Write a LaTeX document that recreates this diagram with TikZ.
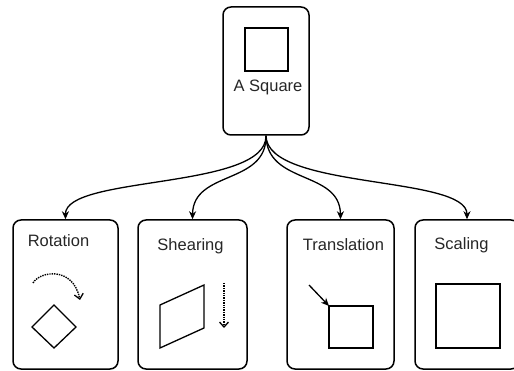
\documentclass[tikz,border=0pt]{standalone}
\usepackage{fontspec}
\setmainfont{Liberation Sans}
\usetikzlibrary{arrows.meta}
\begin{document}
\begin{tikzpicture}[x=1pt,y=-1pt,
  card/.style={draw, line width=1.5pt, rounded corners=8pt, inner sep=0pt},
  title/.style={font=\fontsize{16.5}{18}\selectfont, anchor=base, inner sep=0pt, text=black!85},
  figline/.style={draw, line width=1.3pt},
  link/.style={draw, line width=1.3pt, -{Stealth[length=8pt,width=7pt,inset=2.5pt]}},
  dotarrow/.style={line width=1.4pt, densely dotted, -{Straight Barb[length=5pt,width=9pt,line width=1.3pt]}}]
\useasboundingbox (0,0) rectangle (514,371);
\clip (0,0) rectangle (514,371);
% top card
\node[card, minimum width=86pt, minimum height=128pt] (top) at (266,71) {};
\draw[figline] (245,28) rectangle (288,71);
\node[title] (toptxt) at (268,92) {A Square};
% bottom cards
\node[card, minimum width=105pt, minimum height=149pt] (rot) at (65.5,294.5) {};
\node[card, minimum width=109pt, minimum height=149pt] (she) at (192.5,294.5) {};
\node[card, minimum width=107pt, minimum height=149pt] (tra) at (340.5,294.5) {};
\node[card, minimum width=104pt, minimum height=149pt] (sca) at (467,294.5) {};
% titles
\node[title] (rottxt) at (58.5,247) {Rotation};
\node[title] (shetxt) at (190.5,251) {Shearing};
\node[title] (tratxt) at (343.5,251) {Translation};
\node[title] (scatxt) at (461.5,250) {Scaling};
% connectors
\coordinate (src) at (top.south);
\draw[link] (src) .. controls (267,190) and (65,175) .. (rot.north);
\draw[link] (src) .. controls (267,185) and (193,170) .. (she.north);
\draw[link] (src) .. controls (267,185) and (340,170) .. (tra.north);
\draw[link] (src) .. controls (267,190) and (467,175) .. (sca.north);
% rotation
\draw[dotarrow] (33,283) .. controls (40,271) and (73,266) .. (80,300);
\draw[figline] (54,305) -- (76,327) -- (54,348) -- (32,327) -- cycle;
% shearing
\draw[figline] (160,348) -- (160,305) -- (204,285) -- (204,328) -- cycle;
\draw[dotarrow] (224,283) -- (224,328);
% translation
\draw[figline] (329,306) rectangle (373,348);
\draw[line width=1.3pt, -{Stealth[length=8pt,width=7pt,inset=2.5pt]}] (309,285) -- (329,306);
% scaling
\draw[figline] (436,284) rectangle (500,348);
\end{tikzpicture}
\end{document}
